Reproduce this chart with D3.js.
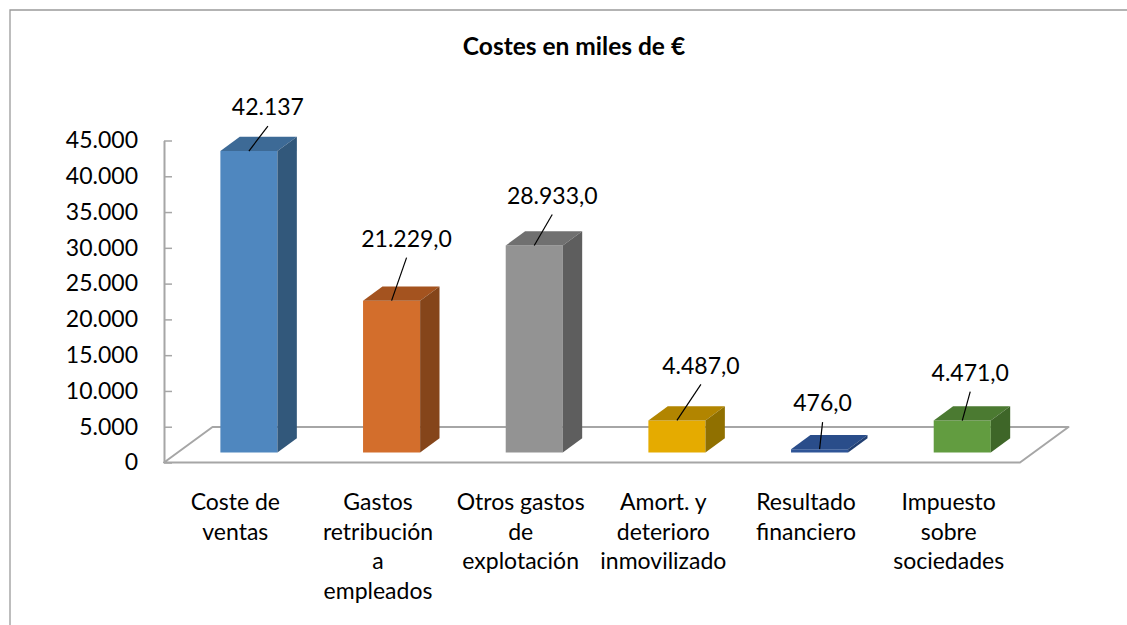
<!DOCTYPE html>
<html lang="es">
<head>
  <meta charset="UTF-8">
  <title>Costes en miles de €</title>
  <script src="https://d3js.org/d3.v7.min.js"></script>
  <style>
    body { margin: 0; background: #fff; }
    text { font-family: Lato, "Open Sans", sans-serif; fill: #000; }
    .title { font-size: 24.5px; font-weight: bold; }
    .tick text, .cat, .val { font-size: 23px; }
  </style>
</head>
<body>
  <div id="chart"></div>

  <script>
    // datos
    const categories = [
      "Coste de\nventas",
      "Gastos\nretribución\na\nempleados",
      "Otros gastos\nde\nexplotación",
      "Amort. y\ndeterioro\ninmovilizado",
      "Resultado\nfinanciero",
      "Impuesto\nsobre\nsociedades"
    ];
    const values = [42137, 21229, 28933, 4487, 476, 4471];
    const decimals = [0, 1, 1, 1, 1, 1];
    const yTicks = [0, 5000, 10000, 15000, 20000, 25000, 30000, 35000, 40000, 45000];

    // colores: frente, tapa, lateral
    const fronts = ["#4f87bf", "#d36e2c", "#939393", "#e5ab00", "#2f5597", "#629c40"];
    const tops   = ["#3d6a96", "#a4531f", "#707070", "#b28500", "#2a4d8a", "#4b7a31"];
    const sides  = ["#32587b", "#85451a", "#5e5e5e", "#907000", "#213f72", "#3e6628"];

    // desplazamiento manual de etiquetas (como en Excel)
    const labelShift = [[19, -44], [15, -62], [18, -50], [24, -55], [3, -46], [8, -48]];

    const W = 1127, H = 625;
    const x0 = 164, floorW = 856;
    const dx = 48.5, dy = -35.5;   // profundidad del suelo
    const t0 = 0.28, t1 = 0.68;    // profundidad de las barras

    const es = d3.formatLocale({ decimal: ",", thousands: ".", grouping: [3], currency: ["", " €"] });
    const fmt = [es.format(",.0f"), es.format(",.1f")];

    const svg = d3.select("#chart").append("svg")
      .attr("width", W).attr("height", H);

    // marco
    svg.append("path")
      .attr("d", `M10,${H} L10,10 L${W},10`)
      .attr("fill", "none").attr("stroke", "#9a9a9a").attr("stroke-width", 1.3);

    svg.append("text").attr("class", "title")
      .attr("x", 574).attr("y", 55).attr("text-anchor", "middle")
      .text("Costes en miles de €");

    const x = d3.scaleBand()
      .domain(categories)
      .range([x0, x0 + floorW])
      .paddingInner(0.6)
      .paddingOuter(0.3);

    const y = d3.scaleLinear()
      .domain([0, 45000])
      .range([462.5, 140.5]);

    const P = (px, py, t) => [px + t * dx, py + t * dy];

    // suelo
    const y0 = y(0);
    const floor = [P(x0, y0, 0), P(x0 + floorW, y0, 0), P(x0 + floorW, y0, 1), P(x0, y0, 1)];
    svg.append("polygon")
      .attr("points", floor.map(p => p.join(",")).join(" "))
      .attr("fill", "#fff").attr("stroke", "#a6a6a6").attr("stroke-width", 2)
      .attr("stroke-linejoin", "round");

    // eje Y
    svg.append("g")
      .attr("transform", `translate(${x0},0)`)
      .call(d3.axisLeft(y).tickValues(yTicks).tickFormat(es.format(",")).tickSizeInner(-8).tickSizeOuter(0).tickPadding(26))
      .call(g => g.select(".domain").attr("stroke", "#a6a6a6").attr("stroke-width", 2))
      .call(g => g.selectAll(".tick line").attr("stroke", "#a6a6a6").attr("stroke-width", 1.5))
      .call(g => g.selectAll(".tick text").attr("font-family", null).attr("font-size", null));

    // barras
    const bars = svg.selectAll(".bar")
      .data(categories.map((c, i) => ({ c, i, v: values[i] })))
      .enter().append("g").attr("class", "bar");

    const poly = pts => pts.map(p => p.join(",")).join(" ");

    bars.each(function(d) {
      const g = d3.select(this);
      const xl = x(d.c), xr = x(d.c) + x.bandwidth();
      const yt = y(d.v);
      g.append("polygon")
        .attr("points", poly([P(xl, yt, t0), P(xr, yt, t0), P(xr, y0, t0), P(xl, y0, t0)]))
        .attr("fill", fronts[d.i]);
      g.append("polygon")
        .attr("points", poly([P(xl, yt, t0), P(xr, yt, t0), P(xr, yt, t1), P(xl, yt, t1)]))
        .attr("fill", tops[d.i]);
      g.append("polygon")
        .attr("points", poly([P(xr, yt, t0), P(xr, y0, t0), P(xr, y0, t1), P(xr, yt, t1)]))
        .attr("fill", sides[d.i]);
    });

    // etiquetas de valor con línea guía
    bars.each(function(d) {
      const g = d3.select(this);
      const [sx, sy] = P(x(d.c) + x.bandwidth() / 2, y(d.v), t0);
      const lx = sx + labelShift[d.i][0], ly = sy + labelShift[d.i][1];
      g.append("line")
        .attr("x1", sx).attr("y1", sy)
        .attr("x2", lx).attr("y2", ly + 19)
        .attr("stroke", "#000").attr("stroke-width", 1.2);
      g.append("text").attr("class", "val")
        .attr("x", lx).attr("y", ly).attr("dy", "0.35em")
        .attr("text-anchor", "middle")
        .text(fmt[decimals[d.i]](d.v));
    });

    // etiquetas de categoría
    svg.selectAll(".cat")
      .data(categories)
      .enter().append("text")
      .attr("class", "cat")
      .attr("text-anchor", "middle")
      .attr("x", d => x(d) + x.bandwidth() / 2)
      .attr("y", 502)
      .each(function(d) {
        d.split("\n").forEach((line, k) => {
          d3.select(this).append("tspan")
            .attr("x", x(d) + x.bandwidth() / 2)
            .attr("y", 502 + k * 29.5)
            .attr("dy", "0.35em")
            .text(line);
        });
      });
  </script>
</body>
</html>
